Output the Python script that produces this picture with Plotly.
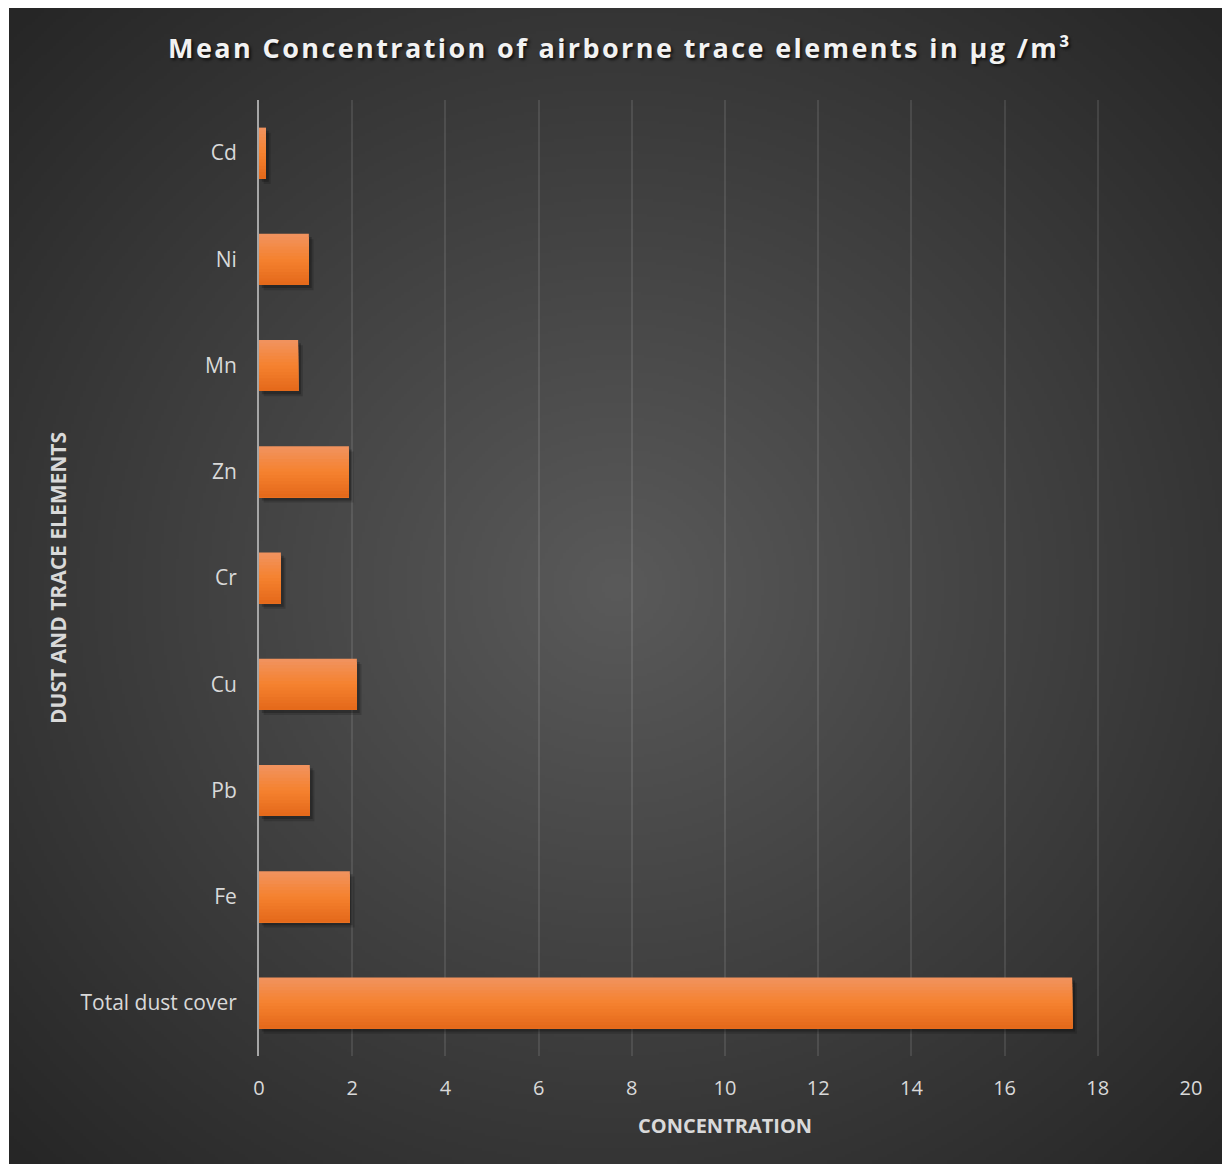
import base64
import struct
import zlib

import numpy as np
import plotly.graph_objects as go

# Mean airborne concentrations (µg/m³), bottom to top
elements = ["Total dust cover", "Fe", "Pb", "Cu", "Cr", "Zn", "Mn", "Ni", "Cd"]
concentration = [17.45, 1.95, 1.09, 2.10, 0.47, 1.93, 0.84, 1.07, 0.15]
x_ticks = [0, 2, 4, 6, 8, 10, 12, 14, 16, 18, 20]

FONT = "Open Sans"
TEXT = "#d9d9d9"
W, H = 1222, 1164
L, R, T, B = 259, 31, 100, 108
PW, PH = W - L - R, H - T - B


def gray_png(arr):
    """Encode a 2-D uint8 array as a greyscale PNG data URI."""
    h, w = arr.shape
    raw = b"".join(b"\x00" + arr[i].tobytes() for i in range(h))

    def chunk(tag, data):
        c = tag + data
        return struct.pack(">I", len(data)) + c + struct.pack(">I", zlib.crc32(c) & 0xFFFFFFFF)

    png = (b"\x89PNG\r\n\x1a\n"
           + chunk(b"IHDR", struct.pack(">IIBBBBB", w, h, 8, 0, 0, 0, 0))
           + chunk(b"IDAT", zlib.compress(raw, 9))
           + chunk(b"IEND", b""))
    return "data:image/png;base64," + base64.b64encode(png).decode()


# radial dark-grey backdrop: light centre fading to near-black edges
gw, gh = 404, 385
yy, xx = np.mgrid[0:gh, 0:gw]
t = np.sqrt(((xx - gw / 2) / (gw / 2)) ** 2 + ((yy - gh / 2) / (gh / 2)) ** 2)
shade = np.clip(90 - 37 * t, 38, 255).astype(np.uint8)
backdrop = gray_png(shade)

# backdrop extent in paper coordinates
bx0, bx1 = (9 - L) / PW, (W - L) / PW
by_top, by_bot = (H - B - 8) / PH, (H - B - H) / PH

bar_w = 0.48
fig = go.Figure()

# soft drop shadow behind each bar
for dx, dy, a in [(0.10, 0.05, 0.16), (0.06, 0.03, 0.22)]:
    fig.add_trace(go.Bar(
        y=elements, x=concentration, base=dx, orientation="h",
        width=bar_w, offset=-bar_w / 2 - dy,
        marker=dict(color=f"rgba(0,0,0,{a})", line=dict(width=0)),
        hoverinfo="skip", showlegend=False,
    ))

# vertical orange gradient built from stacked, bottom-anchored slices
stops = [(0.0, (241, 147, 96)), (0.5, (245, 130, 47)), (1.0, (228, 104, 26))]


def grad(f):
    for (f0, c0), (f1, c1) in zip(stops[:-1], stops[1:]):
        if f <= f1:
            u = (f - f0) / (f1 - f0)
            return "rgb(" + ",".join(str(round(a + (b - a) * u)) for a, b in zip(c0, c1)) + ")"
    return "rgb(%d,%d,%d)" % stops[-1][1]


N = 16
for k in range(N):
    frac = (N - k) / N
    fig.add_trace(go.Bar(
        y=elements, x=concentration, orientation="h",
        width=bar_w * frac, offset=-bar_w / 2,
        marker=dict(color=grad((k + 0.5) / N), line=dict(width=0)),
        hovertemplate="%{y}: %{x}<extra></extra>" if k == 0 else None,
        hoverinfo=None if k == 0 else "skip",
        showlegend=False,
    ))

fig.update_layout(
    width=W, height=H,
    margin=dict(l=L, r=R, t=T, b=B),
    paper_bgcolor="white",
    plot_bgcolor="rgba(0,0,0,0)",
    barmode="overlay",
    images=[dict(
        source=backdrop, xref="paper", yref="paper",
        x=bx0, y=by_top, sizex=bx1 - bx0, sizey=by_top - by_bot,
        xanchor="left", yanchor="top", sizing="stretch", layer="below",
    )],
    title=dict(
        text='<span style="letter-spacing:2.4px">'
             "Mean Concentration of airborne trace elements in µg /m³</span>",
        x=620 / W, xref="container", xanchor="center",
        y=1 - 49 / H, yref="container", yanchor="middle",
        font=dict(family=FONT, size=27, color="#f2f2f2", weight="bold",
                  shadow="2px 2px 3px rgba(0,0,0,0.7)"),
    ),
    xaxis=dict(
        range=[0, 20], tickvals=x_ticks, showgrid=True,
        gridcolor="rgba(255,255,255,0.10)", gridwidth=2,
        zeroline=False, showline=False, ticks="",
        ticklabelstandoff=18,
        tickfont=dict(family=FONT, size=20, color=TEXT),
        fixedrange=True,
    ),
    yaxis=dict(
        range=[-0.5, 8.5], showgrid=False, zeroline=False,
        showline=True, linecolor="#a6a6a6", linewidth=2,
        ticks="", ticklabelstandoff=16,
        tickfont=dict(family=FONT, size=21, color=TEXT),
        fixedrange=True,
    ),
    annotations=[
        dict(text="<b>CONCENTRATION</b>", xref="paper", yref="paper",
             x=0.5, y=(H - B - 1125) / PH, xanchor="center", yanchor="middle",
             showarrow=False, font=dict(family=FONT, size=20, color=TEXT)),
        dict(text="<b>DUST AND TRACE ELEMENTS</b>", xref="paper", yref="paper",
             x=(58 - L) / PW, y=0.5, xanchor="center", yanchor="middle",
             textangle=-90, showarrow=False,
             font=dict(family=FONT, size=21, color=TEXT)),
    ],
)

fig.write_html("out.html")
